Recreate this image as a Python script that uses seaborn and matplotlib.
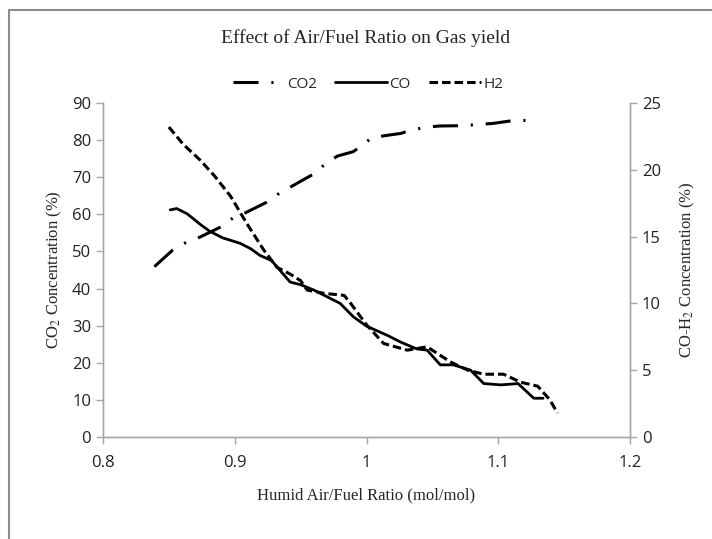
import matplotlib
matplotlib.use('Agg')
import matplotlib.pyplot as plt
import seaborn as sns
from matplotlib.patches import Rectangle

# CO2 concentration (left axis, %)
co2_x = [0.839, 0.853, 0.863, 0.872, 0.890, 0.899, 0.908, 0.925, 0.935, 0.944,
         0.961, 0.969, 0.978, 0.990, 0.995, 1.004, 1.014, 1.026, 1.033, 1.044,
         1.055, 1.074, 1.084, 1.096, 1.114, 1.125]
co2_y = [45.9, 50.4, 52.4, 53.6, 56.7, 59.1, 60.4, 63.4, 66.0, 67.7,
         71.1, 73.7, 75.7, 76.9, 78.2, 80.6, 81.2, 81.8, 82.6, 83.4,
         83.8, 83.9, 84.2, 84.5, 85.4, 85.2]

# CO concentration (right axis, %)
co_x = [0.851, 0.856, 0.864, 0.874, 0.881, 0.891, 0.904, 0.912, 0.919, 0.928,
        0.935, 0.942, 0.950, 0.960, 0.970, 0.980, 0.990, 1.000, 1.016, 1.026,
        1.038, 1.046, 1.056, 1.066, 1.079, 1.089, 1.102, 1.115, 1.127, 1.134]
co_y = [17.0, 17.1, 16.7, 15.9, 15.4, 14.9, 14.5, 14.1, 13.6, 13.2,
        12.4, 11.6, 11.4, 11.0, 10.5, 10.0, 9.0, 8.3, 7.6, 7.1,
        6.6, 6.5, 5.4, 5.4, 5.0, 4.0, 3.9, 4.0, 2.9, 2.9]

# H2 concentration (right axis, %)
h2_x = [0.850, 0.861, 0.874, 0.885, 0.897, 0.909, 0.922, 0.932, 0.942, 0.950,
        0.955, 0.968, 0.983, 0.988, 1.000, 1.013, 1.031, 1.046, 1.064, 1.077,
        1.089, 1.104, 1.117, 1.130, 1.139, 1.145]
h2_y = [23.2, 21.9, 20.7, 19.5, 18.0, 16.0, 14.0, 12.7, 12.2, 11.7,
        11.0, 10.75, 10.6, 10.0, 8.4, 7.0, 6.5, 6.75, 5.6, 5.0,
        4.7, 4.7, 4.1, 3.8, 2.8, 1.8]

x_ticks = [0.8, 0.9, 1.0, 1.1, 1.2]
x_tick_labels = ['0.8', '0.9', '1', '1.1', '1.2']

sns.set_theme(style='white')
plt.rcParams['font.family'] = ['Open Sans', 'DejaVu Sans']
plt.rcParams['mathtext.fontset'] = 'stix'

fig = plt.figure(figsize=(7.12, 5.39), dpi=100)
ax = fig.add_axes([103 / 712, 1 - 437 / 539, 527 / 712, 334 / 539])
ax2 = ax.twinx()

dashdot = (0, (8.2, 4.2, 0.7, 4.2))
dashed = (0, (2.8, 1.3))

sns.lineplot(x=co2_x, y=co2_y, ax=ax, color='black', lw=2.2, linestyle=dashdot, label='CO2')
sns.lineplot(x=co_x, y=co_y, ax=ax2, color='black', lw=2.0, label='CO')
sns.lineplot(x=h2_x, y=h2_y, ax=ax2, color='black', lw=2.2, linestyle=dashed, label='H2')

ax.set_xlim(0.8, 1.2)
ax.set_ylim(0, 90)
ax2.set_ylim(0, 25)
ax.set_xticks(x_ticks)
ax.set_xticklabels(x_tick_labels)
ax.set_yticks(range(0, 91, 10))
ax2.set_yticks(range(0, 26, 5))

gray = '#a6a6a6'
for a in (ax, ax2):
    for s in a.spines.values():
        s.set_color(gray)
        s.set_linewidth(1)
    a.spines['top'].set_visible(False)
    a.tick_params(colors='#222222', labelsize=12, length=5, width=1, color=gray, direction='out')
ax.tick_params(axis='x', pad=8)
ax.tick_params(left=True, bottom=True)
ax2.tick_params(right=True)

serif = ['Liberation Serif', 'DejaVu Serif']
ax.set_xlabel('Humid Air/Fuel Ratio (mol/mol)', family=serif, fontsize=12, labelpad=12)
ax.set_ylabel('CO$_2$ Concentration (%)', family=serif, fontsize=12, labelpad=6)
ax2.set_ylabel('CO-H$_2$ Concentration (%)', family=serif, fontsize=12, labelpad=12)

fig.text(366 / 712, 1 - 38 / 539, 'Effect of Air/Fuel Ratio on Gas yield',
         family=serif, fontsize=14, ha='center', va='center')

h1, l1 = ax.get_legend_handles_labels()
h2, l2 = ax2.get_legend_handles_labels()
if ax2.get_legend():
    ax2.get_legend().remove()
ax.legend(h1 + h2, l1 + l2, loc='center', bbox_to_anchor=(368 / 712, 1 - 84 / 539),
          bbox_transform=fig.transFigure, ncol=3, frameon=False, fontsize=11,
          handlelength=3.4, handletextpad=0.15, columnspacing=1.2)

# frame remnants at top/left edge of the original image
fig.patches.append(Rectangle((9 / 712, -0.1), 2, 1 - 10 / 539 + 0.1,
                             transform=fig.transFigure, fill=False,
                             edgecolor='#8c8c8c', lw=1.5))

fig.savefig('out.png', dpi=100)
